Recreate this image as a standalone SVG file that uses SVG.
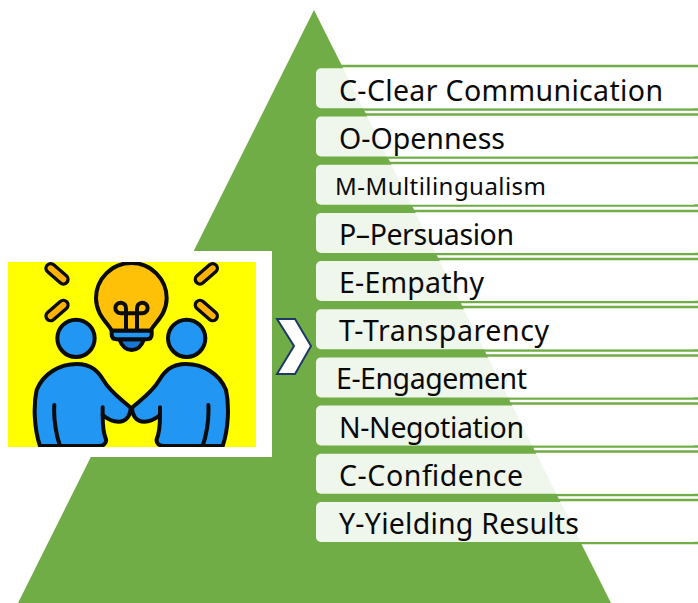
<svg xmlns="http://www.w3.org/2000/svg" xmlns:xlink="http://www.w3.org/1999/xlink" width="698" height="603" viewBox="0 0 698 603">
<style>
.rule{stroke:#70ad47;stroke-width:2.6}
.box{fill:#fff;fill-opacity:.89}
.t{font-family:"Noto Sans","Open Sans",sans-serif;font-size:28.5px;fill:#0a0a0a}
.k{stroke:#0b0b0b;stroke-width:12;stroke-linejoin:round;stroke-linecap:round}
</style>
<defs>
<clipPath id="pic"><rect x="24" y="66" width="744" height="555"/></clipPath>
<g id="person">
<circle class="k" cx="228" cy="295" r="56" fill="#2196f3"/>
<path class="k" fill="#2196f3" d="M120,618C102,565 100,495 110,450C130,400 180,372 230,372C275,372 295,395 310,420C330,455 360,475 392,503C392,525 380,545 355,545C335,545 320,535 308,525C308,560 310,580 318,598C320,610 310,618 295,618Z"/>
<path class="k" fill="none" d="M163,495C160,540 170,590 180,618M308,502V525"/>
</g>
<g id="pill">
<path d="M0,0L38,33" stroke="#0b0b0b" stroke-width="38" stroke-linecap="round"/>
<path d="M0,0L38,33" stroke="#ffb300" stroke-width="18" stroke-linecap="round"/>
</g>
</defs>
<rect width="698" height="603" fill="#fff"/>
<g id="pyramid"><polygon points="314,10 611,603 18,603" fill="#70ad47"/></g>
<g id="connectors">
<path class="rule" d="M316,66H698M316,109.500H698M316,114.500H698M316,157.500H698M316,163H698M316,205.500H698M316,211H698M316,254H698M316,259H698M316,302H698M316,307H698M316,350.500H698M316,355.500H698M316,398.500H698M316,403.500H698M316,446.500H698M316,451.500H698M316,495H698M316,500H698M316,543H698"/>
</g>
<g id="n1"><rect class="box" x="316" y="68.300" width="382" height="40" rx="5"/><text class="t" x="339" y="101" textLength="324">C-Clear Communication</text></g>
<g id="n2"><rect class="box" x="316" y="116.500" width="382" height="40" rx="5"/><text class="t" x="339" y="149" textLength="166">O-Openness</text></g>
<g id="n3"><rect class="box" x="316" y="164.700" width="382" height="40" rx="5"/><text class="t" x="335" y="195" textLength="211" style="font-size:24px">M-Multilingualism</text></g>
<g id="n4"><rect class="box" x="316" y="212.900" width="382" height="40" rx="5"/><text class="t" x="339" y="245" textLength="175">P–Persuasion</text></g>
<g id="n5"><rect class="box" x="316" y="261" width="382" height="40" rx="5"/><text class="t" x="339" y="293" textLength="145">E-Empathy</text></g>
<g id="n6"><rect class="box" x="316" y="309.200" width="382" height="40" rx="5"/><text class="t" x="339" y="341" textLength="210">T-Transparency</text></g>
<g id="n7"><rect class="box" x="316" y="357.400" width="382" height="40" rx="5"/><text class="t" x="336" y="389" textLength="191">E-Engagement</text></g>
<g id="n8"><rect class="box" x="316" y="405.500" width="382" height="40" rx="5"/><text class="t" x="339" y="438" textLength="185">N-Negotiation</text></g>
<g id="n9"><rect class="box" x="316" y="453.700" width="382" height="40" rx="5"/><text class="t" x="339" y="486" textLength="184">C-Confidence</text></g>
<g id="n10"><rect class="box" x="316" y="502" width="382" height="40" rx="5"/><text class="t" x="339" y="534" textLength="240">Y-Yielding Results</text></g>
<g id="picture">
<rect y="251" width="272" height="206" fill="#fff"/>
<rect x="8" y="262" width="248" height="185" fill="#ff0"/>
<g transform="translate(0,240) scale(.33333)" clip-path="url(#pic)">
<use xlink:href="#pill" href="#pill" transform="translate(152,85)"/>
<use xlink:href="#pill" href="#pill" transform="translate(638,85) scale(-1,1)"/>
<use xlink:href="#pill" href="#pill" transform="translate(152,228) scale(1,-1)"/>
<use xlink:href="#pill" href="#pill" transform="translate(638,228) scale(-1,-1)"/>
<path class="k" fill="#ffc107" d="M335,272C325,250 288,225 288,175A106,106 0 0 1 500,175C500,225 462,250 452,272Z"/>
<path class="k" fill="none" d="M378,268V205A16,16 0 1 0 362,220H427A16,16 0 1 0 411,205V268"/>
<path class="k" fill="#1976d2" d="M358,298H432Q420,330 395,330Q370,330 358,298Z"/>
<path class="k" fill="#2196f3" d="M335,272H455V283Q455,298 440,298H350Q335,298 335,283Z"/>
<use xlink:href="#person" href="#person"/>
<use xlink:href="#person" href="#person" transform="translate(788,0) scale(-1,1)"/>
</g>
</g>
<g id="chevron"><polygon points="277,319 295,319 311,346 295,374 277,374 294,346" fill="#fff" stroke="#1f3864" stroke-width="2"/></g>
</svg>
